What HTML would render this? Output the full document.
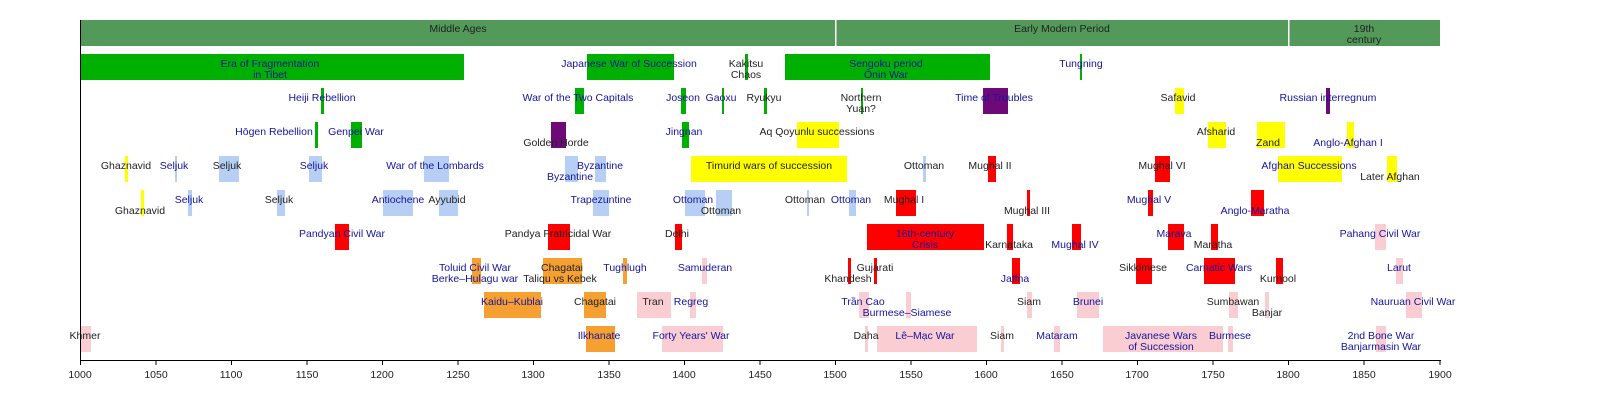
<!DOCTYPE html>
<html><head><meta charset="utf-8"><style>
html,body{margin:0;padding:0;background:#fff;width:1600px;height:400px;overflow:hidden}
svg text{font-family:"Liberation Sans",Arial,sans-serif;font-size:10.5px;text-anchor:middle;dominant-baseline:central}
.b{fill:#1414a0}.d{fill:#222}
.g{fill:#00b000}.lb{fill:#b8cff5}.pk{fill:#f9cdd2}.or{fill:#f5a030}.r{fill:#ff0000}.y{fill:#ffff00}.p{fill:#6e0a78}
</style></head><body>
<svg width="1600" height="400" xmlns="http://www.w3.org/2000/svg">
<rect x="80" y="20" width="1360" height="26" fill="#52995a"/>
<rect x="835" y="20" width="1.5" height="26" fill="#fff"/>
<rect x="1288" y="20" width="1.5" height="26" fill="#fff"/>
<text class="d" x="458" y="29">Middle Ages</text>
<text class="d" x="1062" y="29">Early Modern Period</text>
<text class="d" x="1364" y="29">19th</text><text class="d" x="1364" y="40">century</text>

<rect class="g" x="80" y="54" width="384" height="26"/>
<rect class="g" x="587" y="54" width="87" height="26"/>
<rect class="g" x="745" y="54" width="3" height="26"/>
<rect class="g" x="785" y="54" width="205" height="26"/>
<rect class="g" x="1080" y="54" width="2" height="26"/>
<text class="b" x="270" y="64">Era of Fragmentation</text><text class="b" x="270" y="75">in Tibet</text>
<text class="b" x="629" y="64">Japanese War of Succession</text>
<text class="d" x="746" y="64">Kakitsu</text><text class="d" x="746" y="75">Chaos</text>
<text class="b" x="886" y="64">Sengoku period</text><text class="b" x="886" y="75">Ōnin War</text>
<text class="b" x="1081" y="64">Tungning</text>

<rect class="g" x="321" y="88" width="3" height="26"/>
<rect class="g" x="575" y="88" width="9" height="26"/>
<rect class="g" x="681" y="88" width="5" height="26"/>
<rect class="g" x="722" y="88" width="2" height="26"/>
<rect class="g" x="764" y="88" width="3" height="26"/>
<rect class="g" x="861" y="88" width="2" height="26"/>
<rect class="p" x="983" y="88" width="25" height="26"/>
<rect class="y" x="1175" y="88" width="9" height="26"/>
<rect class="p" x="1326" y="88" width="4" height="26"/>
<text class="b" x="322" y="98">Heiji Rebellion</text>
<text class="b" x="578" y="98">War of the Two Capitals</text>
<text class="b" x="683" y="98">Joseon</text>
<text class="b" x="721" y="98">Gaoxu</text>
<text class="d" x="764" y="98">Ryukyu</text>
<text class="d" x="861" y="98">Northern</text><text class="d" x="861" y="109">Yuan?</text>
<text class="b" x="994" y="98">Time of Troubles</text>
<text class="d" x="1178" y="98">Safavid</text>
<text class="b" x="1328" y="98">Russian interregnum</text>

<rect class="g" x="315" y="122" width="3" height="26"/>
<rect class="g" x="351" y="122" width="11" height="26"/>
<rect class="p" x="551" y="122" width="15" height="26"/>
<rect class="g" x="682" y="122" width="7" height="26"/>
<rect class="y" x="797" y="122" width="42" height="26"/>
<rect class="y" x="1208" y="122" width="18" height="26"/>
<rect class="y" x="1257" y="122" width="28" height="26"/>
<rect class="y" x="1347" y="122" width="7" height="26"/>
<text class="b" x="274" y="132">Hōgen Rebellion</text>
<text class="b" x="356" y="132">Genpei War</text>
<text class="d" x="556" y="143">Golden Horde</text>
<text class="b" x="684" y="132">Jingnan</text>
<text class="d" x="817" y="132">Aq Qoyunlu successions</text>
<text class="d" x="1216" y="132">Afsharid</text>
<text class="d" x="1268" y="143">Zand</text>
<text class="b" x="1348" y="143">Anglo-Afghan I</text>

<rect class="y" x="125" y="156" width="3" height="26"/>
<rect class="lb" x="175" y="156" width="2" height="26"/>
<rect class="lb" x="219" y="156" width="20" height="26"/>
<rect class="lb" x="309" y="156" width="13" height="26"/>
<rect class="lb" x="424" y="156" width="25" height="26"/>
<rect class="lb" x="565" y="156" width="13" height="26"/>
<rect class="lb" x="595" y="156" width="11" height="26"/>
<rect class="y" x="691" y="156" width="156" height="26"/>
<rect class="lb" x="923" y="156" width="3" height="26"/>
<rect class="r" x="988" y="156" width="8" height="26"/>
<rect class="r" x="1155" y="156" width="15" height="26"/>
<rect class="y" x="1278" y="156" width="64" height="26"/>
<rect class="y" x="1387" y="156" width="10" height="26"/>
<text class="d" x="126" y="166">Ghaznavid</text>
<text class="b" x="174" y="166">Seljuk</text>
<text class="d" x="227" y="166">Seljuk</text>
<text class="b" x="314" y="166">Seljuk</text>
<text class="b" x="435" y="166">War of the Lombards</text>
<text class="b" x="600" y="166">Byzantine</text><text class="b" x="570" y="177">Byzantine</text>
<text class="d" x="769" y="166">Timurid wars of succession</text>
<text class="d" x="924" y="166">Ottoman</text>
<text class="d" x="990" y="166">Mughal II</text>
<text class="d" x="1162" y="166">Mughal VI</text>
<text class="b" x="1309" y="166">Afghan Successions</text>
<text class="d" x="1390" y="177">Later Afghan</text>

<rect class="y" x="141" y="190" width="3" height="26"/>
<rect class="lb" x="188" y="190" width="4" height="26"/>
<rect class="lb" x="277" y="190" width="8" height="26"/>
<rect class="lb" x="383" y="190" width="30" height="26"/>
<rect class="lb" x="439" y="190" width="19" height="26"/>
<rect class="lb" x="593" y="190" width="16" height="26"/>
<rect class="lb" x="685" y="190" width="20" height="26"/>
<rect class="lb" x="716" y="190" width="16" height="26"/>
<rect class="lb" x="807" y="190" width="2" height="26"/>
<rect class="lb" x="849" y="190" width="7" height="26"/>
<rect class="r" x="896" y="190" width="20" height="26"/>
<rect class="r" x="1027" y="190" width="3" height="26"/>
<rect class="r" x="1148" y="190" width="5" height="26"/>
<rect class="r" x="1251" y="190" width="13" height="26"/>
<text class="d" x="140" y="211">Ghaznavid</text>
<text class="b" x="189" y="200">Seljuk</text>
<text class="d" x="279" y="200">Seljuk</text>
<text class="b" x="398" y="200">Antiochene</text>
<text class="d" x="447" y="200">Ayyubid</text>
<text class="b" x="601" y="200">Trapezuntine</text>
<text class="b" x="693" y="200">Ottoman</text><text class="d" x="721" y="211">Ottoman</text>
<text class="d" x="805" y="200">Ottoman</text>
<text class="b" x="851" y="200">Ottoman</text>
<text class="d" x="904" y="200">Mughal I</text>
<text class="d" x="1027" y="211">Mughal III</text>
<text class="b" x="1149" y="200">Mughal V</text>
<text class="b" x="1255" y="211">Anglo-Maratha</text>

<rect class="r" x="335" y="224" width="14" height="26"/>
<rect class="r" x="548" y="224" width="22" height="26"/>
<rect class="r" x="675" y="224" width="7" height="26"/>
<rect class="r" x="867" y="224" width="117" height="26"/>
<rect class="r" x="1007" y="224" width="6" height="26"/>
<rect class="r" x="1072" y="224" width="9" height="26"/>
<rect class="r" x="1168" y="224" width="16" height="26"/>
<rect class="r" x="1211" y="224" width="7" height="26"/>
<rect class="pk" x="1375" y="224" width="11" height="26"/>
<text class="b" x="342" y="234">Pandyan Civil War</text>
<text class="d" x="558" y="234">Pandya Fratricidal War</text>
<text class="d" x="677" y="234">Delhi</text>
<text class="b" x="925" y="234">16th-century</text><text class="b" x="925" y="245">Crisis</text>
<text class="d" x="1009" y="245">Karnataka</text>
<text class="b" x="1075" y="245">Mughal IV</text>
<text class="b" x="1174" y="234">Marava</text>
<text class="d" x="1213" y="245">Maratha</text>
<text class="b" x="1380" y="234">Pahang Civil War</text>

<rect class="or" x="472" y="258" width="9" height="26"/>
<rect class="or" x="543" y="258" width="39" height="26"/>
<rect class="or" x="623" y="258" width="4" height="26"/>
<rect class="pk" x="702" y="258" width="5" height="26"/>
<rect class="r" x="848" y="258" width="3" height="26"/>
<rect class="r" x="874" y="258" width="3" height="26"/>
<rect class="r" x="1012" y="258" width="8" height="26"/>
<rect class="r" x="1136" y="258" width="16" height="26"/>
<rect class="r" x="1204" y="258" width="31" height="26"/>
<rect class="r" x="1276" y="258" width="7" height="26"/>
<rect class="pk" x="1396" y="258" width="7" height="26"/>
<text class="b" x="475" y="268">Toluid Civil War</text><text class="b" x="475" y="279">Berke–Hulagu war</text>
<text class="d" x="562" y="268">Chagatai</text><text class="d" x="560" y="279">Taliqu vs Kebek</text>
<text class="b" x="625" y="268">Tughlugh</text>
<text class="b" x="705" y="268">Samuderan</text>
<text class="d" x="875" y="268">Gujarati</text><text class="d" x="848" y="279">Khandesh</text>
<text class="b" x="1015" y="279">Jaffna</text>
<text class="d" x="1143" y="268">Sikkimese</text>
<text class="b" x="1219" y="268">Carnatic Wars</text>
<text class="d" x="1278" y="279">Kurnool</text>
<text class="b" x="1399" y="268">Larut</text>

<rect class="or" x="484" y="292" width="57" height="26"/>
<rect class="or" x="584" y="292" width="22" height="26"/>
<rect class="pk" x="637" y="292" width="34" height="26"/>
<rect class="pk" x="690" y="292" width="6" height="26"/>
<rect class="pk" x="859" y="292" width="10" height="26"/>
<rect class="pk" x="906" y="292" width="5" height="26"/>
<rect class="pk" x="1027" y="292" width="5" height="26"/>
<rect class="pk" x="1077" y="292" width="22" height="26"/>
<rect class="pk" x="1229" y="292" width="9" height="26"/>
<rect class="pk" x="1265" y="292" width="4" height="26"/>
<rect class="pk" x="1406" y="292" width="16" height="26"/>
<text class="b" x="512" y="302">Kaidu–Kublai</text>
<text class="d" x="595" y="302">Chagatai</text>
<text class="d" x="653" y="302">Tran</text>
<text class="b" x="691" y="302">Regreg</text>
<text class="b" x="863" y="302">Trần Cao</text><text class="b" x="907" y="313">Burmese–Siamese</text>
<text class="d" x="1029" y="302">Siam</text>
<text class="b" x="1088" y="302">Brunei</text>
<text class="d" x="1233" y="302">Sumbawan</text><text class="d" x="1267" y="313">Banjar</text>
<text class="b" x="1413" y="302">Nauruan Civil War</text>

<rect class="pk" x="80" y="326" width="11" height="26"/>
<rect class="or" x="586" y="326" width="29" height="26"/>
<rect class="pk" x="662" y="326" width="61" height="26"/>
<rect class="pk" x="865" y="326" width="3" height="26"/>
<rect class="pk" x="877" y="326" width="100" height="26"/>
<rect class="pk" x="1001" y="326" width="3" height="26"/>
<rect class="pk" x="1054" y="326" width="6" height="26"/>
<rect class="pk" x="1103" y="326" width="120" height="26"/>
<rect class="pk" x="1228" y="326" width="5" height="26"/>
<rect class="pk" x="1376" y="326" width="10" height="26"/>
<text class="d" x="85" y="336">Khmer</text>
<text class="b" x="599" y="336">Ilkhanate</text>
<text class="b" x="691" y="336">Forty Years' War</text>
<text class="d" x="866" y="336">Daha</text>
<text class="b" x="925" y="336">Lê–Mạc War</text>
<text class="d" x="1002" y="336">Siam</text>
<text class="b" x="1057" y="336">Mataram</text>
<text class="b" x="1161" y="336">Javanese Wars</text><text class="b" x="1161" y="347">of Succession</text>
<text class="b" x="1230" y="336">Burmese</text>
<text class="b" x="1381" y="336">2nd Bone War</text><text class="b" x="1381" y="347">Banjarmasin War</text>

<line x1="80.5" y1="20" x2="80.5" y2="360" stroke="#000" stroke-width="1"/>
<line x1="80" y1="360.5" x2="1441" y2="360.5" stroke="#000" stroke-width="1"/>
<g stroke="#000" stroke-width="1">
<line x1="80.5" y1="360" x2="80.5" y2="365"/><line x1="156" y1="360" x2="156" y2="365"/><line x1="231.5" y1="360" x2="231.5" y2="365"/><line x1="307" y1="360" x2="307" y2="365"/><line x1="382.5" y1="360" x2="382.5" y2="365"/><line x1="458" y1="360" x2="458" y2="365"/><line x1="533.5" y1="360" x2="533.5" y2="365"/><line x1="609" y1="360" x2="609" y2="365"/><line x1="684.5" y1="360" x2="684.5" y2="365"/><line x1="760" y1="360" x2="760" y2="365"/><line x1="835.5" y1="360" x2="835.5" y2="365"/><line x1="911" y1="360" x2="911" y2="365"/><line x1="986.5" y1="360" x2="986.5" y2="365"/><line x1="1062" y1="360" x2="1062" y2="365"/><line x1="1137.5" y1="360" x2="1137.5" y2="365"/><line x1="1213" y1="360" x2="1213" y2="365"/><line x1="1288.5" y1="360" x2="1288.5" y2="365"/><line x1="1364" y1="360" x2="1364" y2="365"/><line x1="1440" y1="360" x2="1440" y2="365"/>
</g>
<g class="d">
<text x="80" y="375">1000</text><text x="156" y="375">1050</text><text x="231" y="375">1100</text><text x="307" y="375">1150</text><text x="382" y="375">1200</text><text x="458" y="375">1250</text><text x="533" y="375">1300</text><text x="609" y="375">1350</text><text x="684" y="375">1400</text><text x="760" y="375">1450</text><text x="835" y="375">1500</text><text x="911" y="375">1550</text><text x="986" y="375">1600</text><text x="1062" y="375">1650</text><text x="1137" y="375">1700</text><text x="1213" y="375">1750</text><text x="1288" y="375">1800</text><text x="1364" y="375">1850</text><text x="1440" y="375">1900</text>
</g>
</svg>
</body></html>
